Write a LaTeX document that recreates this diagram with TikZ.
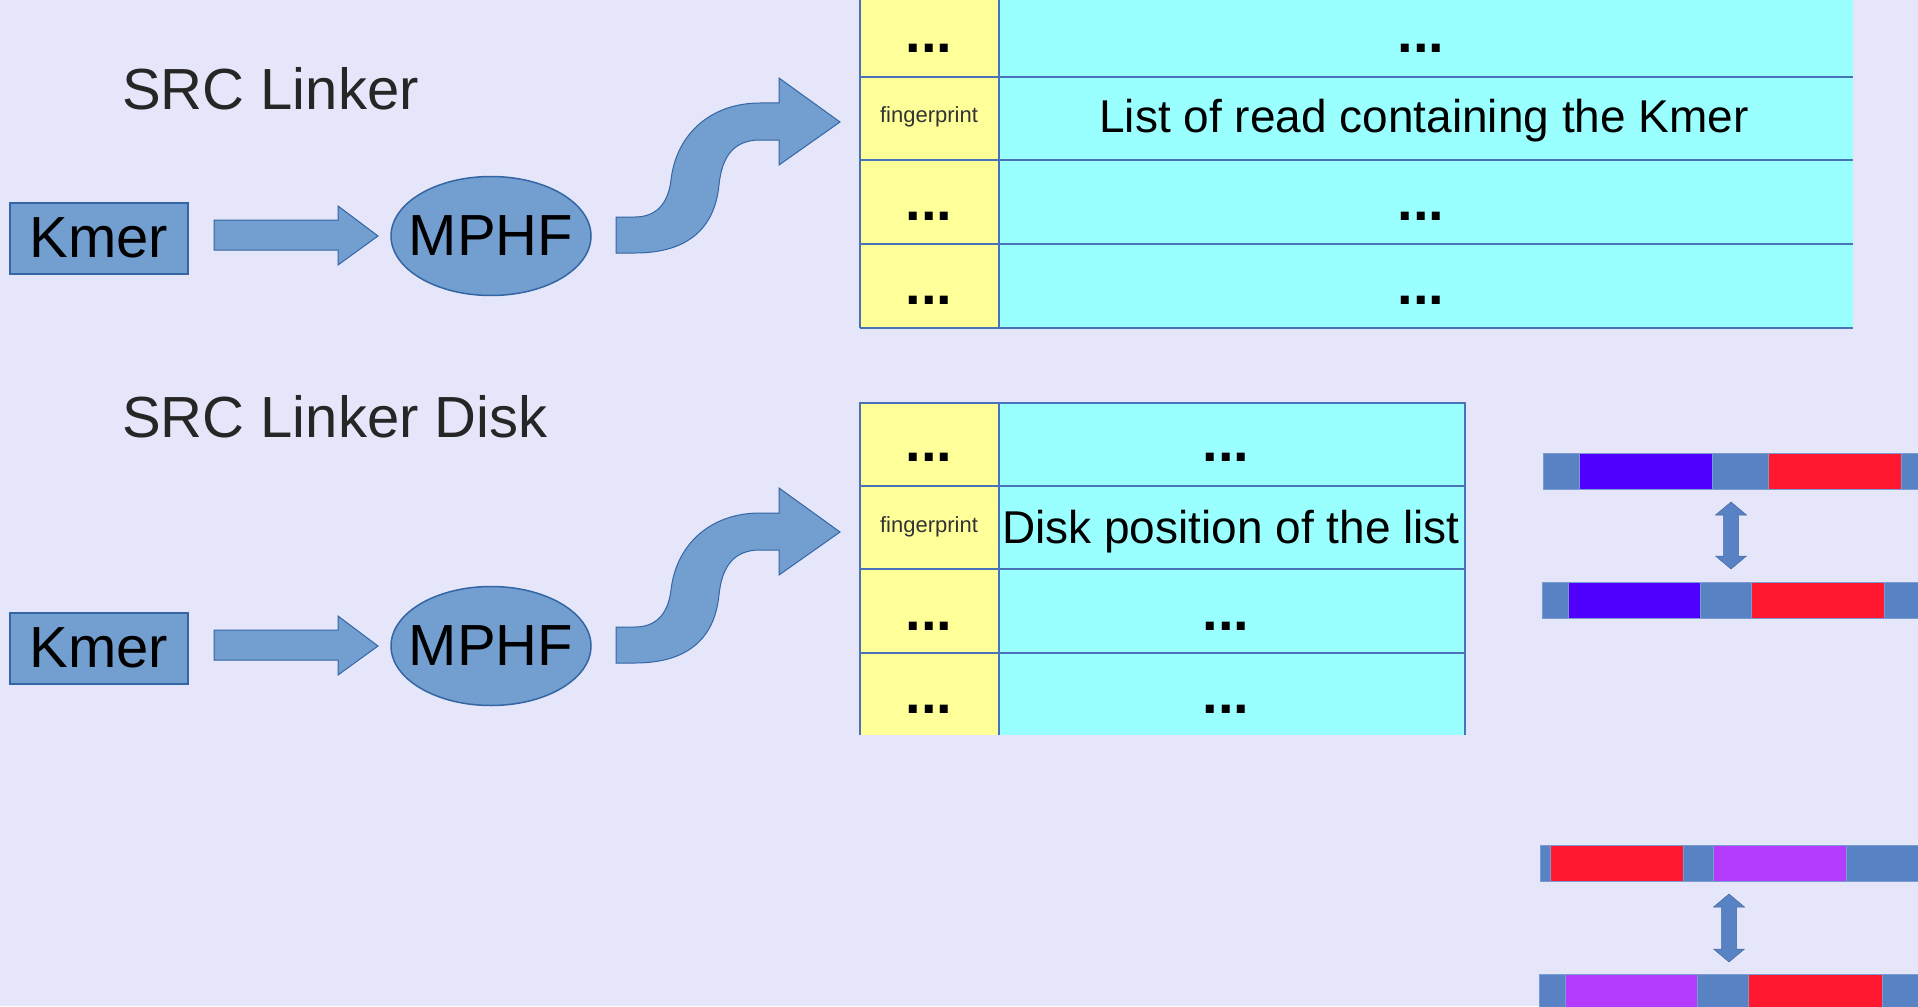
\documentclass[tikz,border=0pt]{standalone}
\usepackage{fontspec}
\setmainfont{Liberation Sans}
\usetikzlibrary{shapes.geometric}
\definecolor{bg}{HTML}{E6E6FA}
\definecolor{arfill}{HTML}{729FCF}
\definecolor{arline}{HTML}{3465A4}
\definecolor{tline}{HTML}{4A72B8}
\definecolor{ylw}{HTML}{FFFF99}
\definecolor{cyn}{HTML}{99FFFF}
\definecolor{steel}{HTML}{5882C4}
\definecolor{violetb}{HTML}{5000FF}
\definecolor{redb}{HTML}{FF1830}
\definecolor{magb}{HTML}{B43CFF}
\newcommand\setfs[1]{\fontsize{#1}{#1}\selectfont}
\tikzset{
  kbox/.style={draw=arline, fill=arfill, line width=2pt, minimum width=178, minimum height=71, inner sep=0, font=\setfs{58}},
  hbox/.style={draw=arline, fill=arfill, line width=1.5pt, ellipse, minimum width=200, minimum height=119, inner sep=0},
  hlabel/.style={label={[font=\setfs{58}, inner sep=0]center:#1}},
  blockarrow/.style={fill=arfill, draw=arline, line width=1pt},
  tl/.style={draw=tline, line width=2.5pt},
  dots/.style={anchor=base, inner sep=0, font=\setfs{56}\bfseries},
  fp/.style={anchor=center, inner sep=0, font=\setfs{22}, text=black!80},
  big/.style={anchor=base, inner sep=0, font=\setfs{46}},
  title/.style={anchor=base west, inner sep=0, font=\setfs{58}, text=black!85},
  barseg/.style={fill=#1, draw=steel!80!white, line width=0.5pt},
  darrow/.style={fill=steel, draw=steel!80!black, line width=0.5pt}
}
\begin{document}
\begin{tikzpicture}[x=1pt,y=-1pt]
\fill[bg] (0,0) rectangle (1918,1006);
\useasboundingbox (0,0) rectangle (1918,1006);

% titles
\node[title] (t1) at (122,110) {SRC Linker};
\node[title] (t2) at (122,437) {SRC Linker Disk};

% rows with Kmer -> MPHF -> curved arrow
\foreach \dy/\n in {0/1,410/2}{
\begin{scope}[shift={(0,\dy)}]
  \node[kbox] (k\n) at (99,238) {Kmer};
  \node[hbox, hlabel=MPHF] (m\n) at (491,236) {};
  \draw[blockarrow] (214,220) -- (338,220) -- (338,206) -- (378,236) -- (338,265) -- (338,250) -- (214,250) -- cycle;
  \draw[blockarrow] (616,217) -- (635,217)
     .. controls (655,217) and (668,205) .. (671,180)
     .. controls (676,135) and (710,103) .. (760,103)
     -- (779,103) -- (779,78) -- (840,122) -- (779,165) -- (779,140) -- (760,140)
     .. controls (735,140) and (722,155) .. (719,185)
     .. controls (714,235) and (680,253) .. (635,253)
     -- (616,253) -- cycle;
\end{scope}
}

% table 1
\fill[ylw] (860,-10) rectangle (999,328);
\fill[cyn] (999,-10) rectangle (1853,328);
\draw[tl] (860,-10) -- (860,328);
\draw[tl] (999,-10) -- (999,328);
\foreach \yy in {77,160,244,328} \draw[tl] (860,\yy) -- (1853,\yy);
\node[dots] (a1) at (929,53) {...};
\node[dots] (b1) at (1421,53) {...};
\node[fp] (a2) at (929,117) {fingerprint};
\node[big] (b2) at (1424,132) {List of read containing the Kmer};
\node[dots] (a3) at (929,220) {...};
\node[dots] (b3) at (1421,220) {...};
\node[dots] (a4) at (929,304) {...};
\node[dots] (b4) at (1421,304) {...};

% table 2
\fill[ylw] (860,403) rectangle (999,735);
\fill[cyn] (999,403) rectangle (1465,735);
\draw[tl] (860,735) -- (860,403) -- (1465,403) -- (1465,735);
\draw[tl] (999,403) -- (999,735);
\foreach \yy in {486,569,653} \draw[tl] (860,\yy) -- (1465,\yy);
\node[dots] (c1) at (929,461) {...};
\node[dots] (d1) at (1226,461) {...};
\node[fp] (c2) at (929,527) {fingerprint};
\node[big] (d2) at (1231,543) {Disk position of the list};
\node[dots] (c3) at (929,630) {...};
\node[dots] (d3) at (1226,630) {...};
\node[dots] (c4) at (929,713) {...};
\node[dots] (d4) at (1226,713) {...};

% bars
\foreach \y/\a/\b/\c/\d/\e/\ca/\cb in {
   453/1543/1579/1712/1768/1901/violetb/redb,
   582/1542/1568/1700/1751/1884/violetb/redb,
   845/1540/1550/1683/1713/1846/redb/magb,
   974/1539/1565/1697/1748/1882/magb/redb}{
  \draw[barseg=steel] (\a,\y) rectangle (1925,\y+36);
  \draw[barseg=\ca] (\b,\y) rectangle (\c,\y+36);
  \draw[barseg=\cb] (\d,\y) rectangle (\e,\y+36);
}

% double arrows
\foreach \x/\t/\bt in {1731/502/569, 1729/894/962}{
  \draw[darrow] (\x,\t) -- (\x+15.5,\t+13) -- (\x+7.5,\t+13) -- (\x+7.5,\bt-13) -- (\x+15.5,\bt-13)
     -- (\x,\bt) -- (\x-15.5,\bt-13) -- (\x-7.5,\bt-13) -- (\x-7.5,\t+13) -- (\x-15.5,\t+13) -- cycle;
}
\end{tikzpicture}
\end{document}
